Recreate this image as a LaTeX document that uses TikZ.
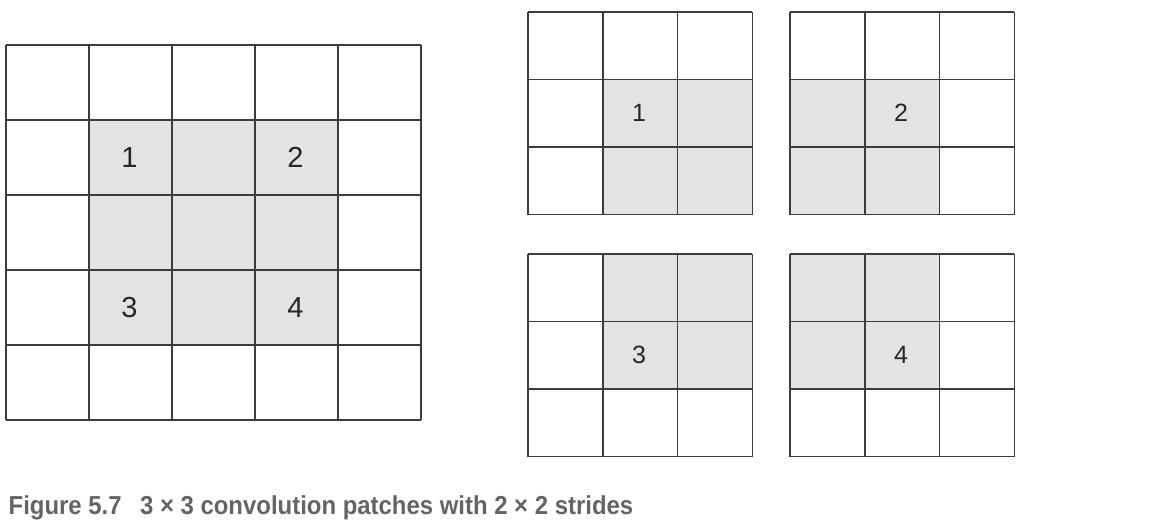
\documentclass[tikz,border=0pt]{standalone}
\usepackage{fontspec}
\setmainfont{Liberation Sans}
\definecolor{patchgray}{RGB}{227,227,227}
\definecolor{gridline}{RGB}{60,60,60}
\definecolor{captiongray}{RGB}{100,100,100}
\tikzset{every picture/.style={line width=1.5pt},
  biglabel/.style={font=\fontsize{29}{32}\selectfont, text=black!85},
  smalllabel/.style={font=\fontsize{25}{28}\selectfont, text=black!85}}

\begin{document}
\begin{tikzpicture}[x=1pt,y=1pt,yscale=-1,xscale=1]
	\useasboundingbox (0,0) rectangle (1158,530);

	% Input 5 x 5 grid
	\fill [patchgray] (89,120) rectangle (338,345) ;
	\foreach \i in {0,...,5} {
		\draw [gridline] (6+83*\i,45) -- (6+83*\i,420) ;
		\draw [gridline] (6,45+75*\i) -- (421,45+75*\i) ;
	}
	% Text Node
	\node [biglabel] (in1) at (129.5,157.5) {1};
	\node [biglabel] (in2) at (295.5,157.5) {2};
	\node [biglabel] (in3) at (129.5,307.5) {3};
	\node [biglabel] (in4) at (295.5,307.5) {4};

	% Four 3 x 3 patches
	\foreach \gx/\gy/\sx/\sy/\lab in {528/12/1/1/1, 790/12/0/1/2, 528/254/1/0/3, 790/254/0/0/4} {
		\fill [patchgray] (\gx+74.8*\sx,\gy+67.5*\sy) rectangle (\gx+74.8*\sx+149.6,\gy+67.5*\sy+135) ;
		\foreach \k in {0,...,3} {
			\draw [gridline] (\gx+74.8*\k,\gy) -- (\gx+74.8*\k,\gy+202.5) ;
			\draw [gridline] (\gx,\gy+67.5*\k) -- (\gx+224.4,\gy+67.5*\k) ;
		}
		% Text Node
		\node [smalllabel] (patch\lab) at (\gx+111,\gy+101.25) {\lab};
	}

	% Caption
	\node [anchor=base west, inner sep=0pt, text=captiongray, xscale=0.92,
		font=\fontsize{26}{30}\selectfont\bfseries] (caption) at (8,514)
		{Figure 5.7\hspace{20pt}3 × 3 convolution patches with 2 × 2 strides};
\end{tikzpicture}
\end{document}
